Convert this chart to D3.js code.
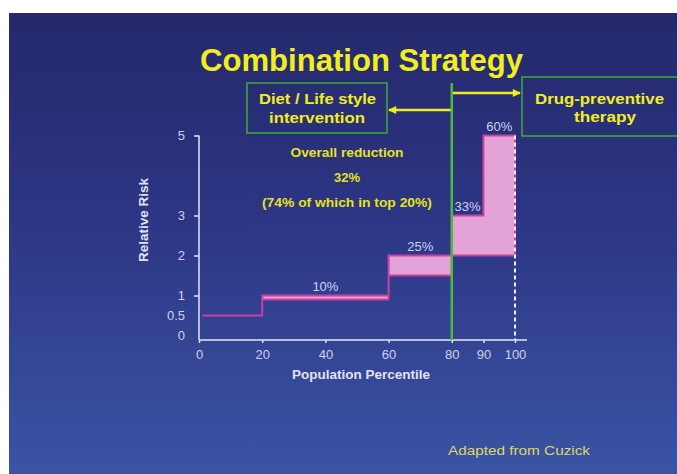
<!DOCTYPE html>
<html>
<head>
<meta charset="utf-8">
<script src="https://cdn.jsdelivr.net/npm/d3@7"></script>
<style>
  html, body { margin: 0; padding: 0; background: #ffffff; }
  svg { display: block; font-family: "Liberation Sans", Arial, sans-serif; }
  .axis text { fill: #d0d0ee; font-size: 13px; }
  .axis line { stroke: #e6e6f2; stroke-width: 1.5; }
</style>
</head>
<body>
<div id="chart"></div>
<script>
  "use strict";

  // Percentile break points of the steps
  var percentileEdges = [1, 20, 60, 80, 90, 100];

  // Relative risk per step, before and after the diet / life style intervention
  var baseRisk = [0.5, 1, 2, 3, 5];
  var reducedRisk = [0.5, 0.9, 1.5, 2, 2];

  // Reduction written over each step
  var reductionLabels = ["", "10%", "25%", "33%", "60%"];

  // Tick labels
  var xTicks = [0, 20, 40, 60, 80, 90, 100];
  var yTicks = [0, 0.5, 1, 2, 3, 5];
  var yTicksWithMark = [1, 2, 3, 5];

  var width = 677;
  var height = 474;
  var yellow = "#f2ee1e";
  var green = "#52b83c";

  var svg = d3.select("#chart").append("svg")
    .attr("width", width)
    .attr("height", height);

  // Background gradient
  var defs = svg.append("defs");
  var grad = defs.append("linearGradient")
    .attr("id", "bg")
    .attr("x1", 0).attr("y1", 0).attr("x2", 0).attr("y2", 1);
  grad.append("stop").attr("offset", "0%").attr("stop-color", "#25286b");
  grad.append("stop").attr("offset", "45%").attr("stop-color", "#2c3684");
  grad.append("stop").attr("offset", "100%").attr("stop-color", "#3b54a4");

  defs.append("marker")
    .attr("id", "arrow")
    .attr("viewBox", "0 0 10 10")
    .attr("refX", 9).attr("refY", 5)
    .attr("markerWidth", 3.6).attr("markerHeight", 3.2)
    .attr("orient", "auto")
    .append("path")
    .attr("d", "M0,0L10,5L0,10Z")
    .attr("fill", yellow);

  svg.append("rect")
    .attr("x", 9).attr("y", 13)
    .attr("width", width - 9).attr("height", height - 13)
    .attr("fill", "url(#bg)");

  // Scales
  var x = d3.scaleLinear().domain([0, 100]).range([199, 515]);
  var y = d3.scaleLinear().domain([0, 5]).range([335.5, 135.5]);
  var axisY = 340;

  // Title
  svg.append("text")
    .attr("x", 361.5).attr("y", 71)
    .attr("text-anchor", "middle")
    .attr("font-size", 32).attr("font-weight", "bold")
    .attr("fill", yellow)
    .attr("textLength", 323).attr("lengthAdjust", "spacingAndGlyphs")
    .text("Combination Strategy");

  // Boxes
  function box(x0, y0, w, h, lines) {
    svg.append("rect")
      .attr("x", x0).attr("y", y0)
      .attr("width", w).attr("height", h)
      .attr("fill", "none")
      .attr("stroke", "#3fa33a")
      .attr("stroke-width", 1.6);
    lines.forEach(function(l) {
      svg.append("text")
        .attr("x", l.cx).attr("y", l.y)
        .attr("text-anchor", "middle")
        .attr("font-size", 15.5).attr("font-weight", "bold")
        .attr("fill", yellow)
        .attr("textLength", l.w).attr("lengthAdjust", "spacingAndGlyphs")
        .text(l.text);
    });
  }

  box(247, 83, 140, 50, [
    {text: "Diet / Life style", cx: 317.5, y: 104, w: 117},
    {text: "intervention", cx: 317, y: 123, w: 96}
  ]);
  box(522, 77, 170, 59, [
    {text: "Drug-preventive", cx: 599.5, y: 104, w: 129},
    {text: "therapy", cx: 605, y: 122, w: 62}
  ]);

  // Arrows from the 80th percentile line
  svg.append("line")
    .attr("x1", x(80)).attr("y1", 93).attr("x2", 520).attr("y2", 93)
    .attr("stroke", yellow).attr("stroke-width", 2.5)
    .attr("marker-end", "url(#arrow)");
  svg.append("line")
    .attr("x1", x(80)).attr("y1", 110).attr("x2", 389).attr("y2", 110)
    .attr("stroke", yellow).attr("stroke-width", 2.5)
    .attr("marker-end", "url(#arrow)");

  // Overall reduction note
  var note = [
    {text: "Overall reduction", y: 157, w: 113},
    {text: "32%", y: 182, w: 26},
    {text: "(74% of which in top 20%)", y: 207, w: 170}
  ];
  note.forEach(function(n) {
    svg.append("text")
      .attr("x", 347).attr("y", n.y)
      .attr("text-anchor", "middle")
      .attr("font-size", 12).attr("font-weight", "bold")
      .attr("fill", "#e6e21e")
      .attr("textLength", n.w).attr("lengthAdjust", "spacingAndGlyphs")
      .text(n.text);
  });

  // Risk steps: band between base and reduced risk
  var steps = percentileEdges.map(function(p, i) {
    var k = Math.min(i, baseRisk.length - 1);
    return {p: p, base: baseRisk[k], reduced: reducedRisk[k]};
  });

  var area = d3.area()
    .curve(d3.curveStepAfter)
    .x(function(d) { return x(d.p); })
    .y0(function(d) { return y(d.reduced); })
    .y1(function(d) { return y(d.base); });

  svg.append("path")
    .datum(steps)
    .attr("d", area)
    .attr("fill", "#e3a2d8")
    .attr("stroke", "#cc3fa0")
    .attr("stroke-width", 2)
    .attr("stroke-linejoin", "miter");

  // Reduction labels
  svg.selectAll(".reduction")
    .data(reductionLabels)
    .enter().append("text")
    .attr("class", "reduction")
    .attr("x", function(d, i) { return x((percentileEdges[i] + percentileEdges[i + 1]) / 2); })
    .attr("y", function(d, i) { return y(baseRisk[i]) - 4.5; })
    .attr("text-anchor", "middle")
    .attr("font-size", 13)
    .attr("fill", "#cfd0f2")
    .text(function(d) { return d; });

  // Dashed edge at the 100th percentile
  svg.append("line")
    .attr("x1", x(100)).attr("x2", x(100))
    .attr("y1", y(5)).attr("y2", axisY)
    .attr("stroke", "#f0f0f8")
    .attr("stroke-width", 2)
    .attr("stroke-dasharray", "4,3");

  // X axis
  var gx = svg.append("g")
    .attr("class", "axis")
    .attr("transform", "translate(0," + axisY + ")")
    .call(d3.axisBottom(x).tickValues(xTicks).tickSize(3).tickPadding(7));
  gx.select(".domain").remove();
  gx.append("line")
    .attr("x1", x(0)).attr("x2", 527)
    .attr("y1", 0).attr("y2", 0);

  // Y axis
  var gy = svg.append("g")
    .attr("class", "axis")
    .attr("transform", "translate(" + x(0) + ",0)")
    .call(d3.axisLeft(y).tickValues(yTicks).tickSize(5).tickPadding(9)
      .tickFormat(function(d) { return d === 0.5 ? "0.5" : d; }));
  gy.select(".domain").remove();
  gy.selectAll(".tick line")
    .attr("stroke-opacity", function(d) { return yTicksWithMark.indexOf(d) >= 0 ? 1 : 0; });
  gy.append("line")
    .attr("x1", 0).attr("x2", 0)
    .attr("y1", y(5)).attr("y2", axisY);

  // 80th percentile divider
  svg.append("line")
    .attr("x1", x(80)).attr("x2", x(80))
    .attr("y1", 83).attr("y2", axisY)
    .attr("stroke", green)
    .attr("stroke-width", 2.5);

  // Axis titles
  svg.append("text")
    .attr("x", 361).attr("y", 378.5)
    .attr("text-anchor", "middle")
    .attr("font-size", 13.5).attr("font-weight", "bold")
    .attr("fill", "#e2e2f4")
    .text("Population Percentile");

  svg.append("text")
    .attr("transform", "translate(148,220) rotate(-90)")
    .attr("text-anchor", "middle")
    .attr("font-size", 13.5).attr("font-weight", "bold")
    .attr("fill", "#e2e2f4")
    .text("Relative Risk");

  // Source
  svg.append("text")
    .attr("x", 448).attr("y", 455)
    .attr("font-size", 13)
    .attr("fill", "#dcd866")
    .attr("textLength", 142).attr("lengthAdjust", "spacingAndGlyphs")
    .text("Adapted from Cuzick");
</script>
</body>
</html>
